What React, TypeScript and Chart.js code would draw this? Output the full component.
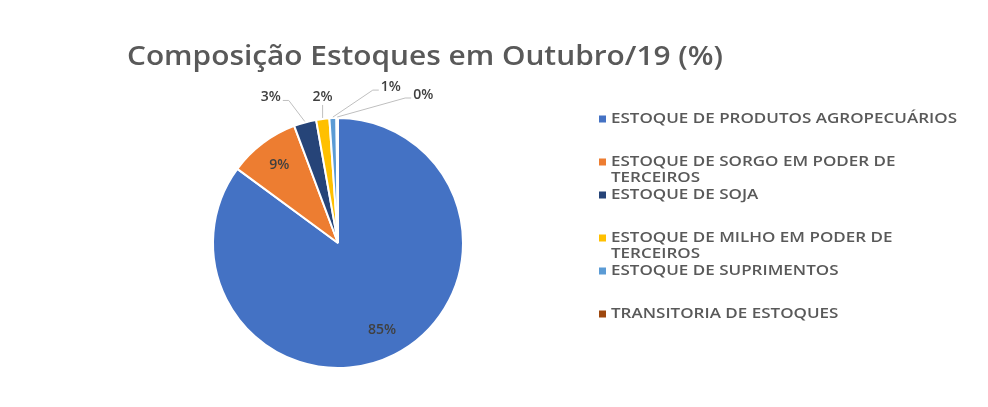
import React, { useEffect, useRef } from "react";
import { Chart, registerables } from "chart.js";

Chart.register(...registerables);

const TITLE = "Composição Estoques em Outubro/19 (%)";

const categories = [
  "ESTOQUE DE PRODUTOS AGROPECUÁRIOS",
  "ESTOQUE DE SORGO EM PODER DE TERCEIROS",
  "ESTOQUE DE SOJA",
  "ESTOQUE DE MILHO EM PODER DE TERCEIROS",
  "ESTOQUE DE SUPRIMENTOS",
  "TRANSITORIA DE ESTOQUES",
];

const legendLines = [
  ["ESTOQUE DE PRODUTOS AGROPECUÁRIOS"],
  ["ESTOQUE DE SORGO EM PODER DE", "TERCEIROS"],
  ["ESTOQUE DE SOJA"],
  ["ESTOQUE DE MILHO EM PODER DE", "TERCEIROS"],
  ["ESTOQUE DE SUPRIMENTOS"],
  ["TRANSITORIA DE ESTOQUES"],
];

const values = [85.1, 9.2, 2.9, 1.7, 0.9, 0.2];

const colors = ["#4472C4", "#ED7D31", "#264478", "#FFC000", "#5B9BD5", "#9E480E"];

// layout constants (not data)
const FONT = "'Open Sans', 'Noto Sans', sans-serif";
const TEXT_COLOR = "#595959";
const LABEL_COLOR = "#404040";
const OUTSIDE_OFFSETS: Record<number, [number, number]> = {
  2: [-34, -24],
  3: [0, -21],
  4: [58, -30],
  5: [86, -22],
};
const LEGEND_ROW_Y = [119, 162, 195, 238, 271, 314];
const LEGEND_LINE_H = 16.5;

// draw text with a fixed font size, squeezed horizontally to a target width
function squeezedText(
  ctx: CanvasRenderingContext2D,
  text: string,
  x: number,
  y: number,
  font: string,
  scaleX: number,
  align: CanvasTextAlign
) {
  ctx.save();
  ctx.font = font;
  ctx.textAlign = align;
  ctx.translate(x, y);
  ctx.scale(scaleX, 1);
  ctx.fillText(text, 0, 0);
  ctx.restore();
}

const overlayPlugin = {
  id: "overlay",
  afterDraw(chart: any) {
    const ctx: CanvasRenderingContext2D = chart.ctx;
    ctx.save();

    // Title
    const tFont = `600 27px ${FONT}`;
    ctx.font = tFont;
    const tw = ctx.measureText(TITLE).width;
    ctx.fillStyle = TEXT_COLOR;
    ctx.textBaseline = "alphabetic";
    squeezedText(ctx, TITLE, 425, 65, tFont, 596 / tw, "center");

    // Legend
    const lFont = `600 13.5px ${FONT}`;
    ctx.font = lFont;
    const lScale = 346 / ctx.measureText(legendLines[0][0]).width;
    ctx.textBaseline = "middle";
    legendLines.forEach((lines, i) => {
      const y0 = LEGEND_ROW_Y[i];
      ctx.fillStyle = colors[i];
      ctx.fillRect(599, y0 - 3.5, 7, 7);
      ctx.fillStyle = TEXT_COLOR;
      lines.forEach((ln, j) =>
        squeezedText(ctx, ln, 611, y0 + j * LEGEND_LINE_H, lFont, lScale, "left")
      );
    });

    // Data labels
    const meta = chart.getDatasetMeta(0);
    const total = values.reduce((a, b) => a + b, 0);
    ctx.font = `600 14px ${FONT}`;
    meta.data.forEach((arc: any, i: number) => {
      const { x, y, startAngle, endAngle, outerRadius } = arc.getProps(
        ["x", "y", "startAngle", "endAngle", "outerRadius"],
        true
      );
      const mid = (startAngle + endAngle) / 2;
      const text = Math.round((values[i] / total) * 100) + "%";
      ctx.fillStyle = LABEL_COLOR;
      ctx.textAlign = "center";
      ctx.textBaseline = "middle";
      if (values[i] / total >= 0.05) {
        const r = outerRadius * 0.78;
        ctx.fillText(text, x + Math.cos(mid) * r, y + Math.sin(mid) * r);
      } else {
        const px = x + Math.cos(mid) * (outerRadius + 1);
        const py = y + Math.sin(mid) * (outerRadius + 1);
        const off = OUTSIDE_OFFSETS[i] || [0, -20];
        const lx = px + off[0];
        const ly = py + off[1];
        ctx.fillText(text, lx, ly);
        const w = ctx.measureText(text).width;
        // leader line
        ctx.strokeStyle = "#BFBFBF";
        ctx.lineWidth = 1;
        ctx.beginPath();
        if (lx > px + 12) {
          const ax = lx - w / 2 - 2;
          const ay = ly + 3;
          ctx.moveTo(ax, ay);
          ctx.lineTo(ax - 6, ay);
          ctx.lineTo(px, py);
        } else if (lx < px - 12) {
          const ax = lx + w / 2 + 2;
          const ay = ly + 3;
          ctx.moveTo(ax, ay);
          ctx.lineTo(ax + 6, ay);
          ctx.lineTo(px, py);
        } else {
          ctx.moveTo(lx, ly + 8);
          ctx.lineTo(px, py);
        }
        ctx.stroke();
      }
    });

    ctx.restore();
  },
};

export default function App() {
  const ref = useRef<HTMLCanvasElement>(null);
  useEffect(() => {
    document.body.style.margin = "0";
    const chart = new Chart(ref.current!, {
      type: "pie",
      data: {
        labels: categories,
        datasets: [
          {
            data: values,
            backgroundColor: colors,
            borderColor: "#FFFFFF",
            borderWidth: 2,
          },
        ],
      },
      options: {
        responsive: false,
        animation: false,
        events: [],
        layout: { padding: { left: 212, right: 524, top: 117, bottom: 38 } },
        plugins: {
          legend: { display: false },
          title: { display: false },
          tooltip: { enabled: false },
        },
      },
      plugins: [overlayPlugin],
    });
    return () => chart.destroy();
  }, []);
  return (
    <div style={{ width: 988, height: 407, background: "#fff" }}>
      <canvas ref={ref} width={988} height={407} style={{ display: "block" }} />
    </div>
  );
}
